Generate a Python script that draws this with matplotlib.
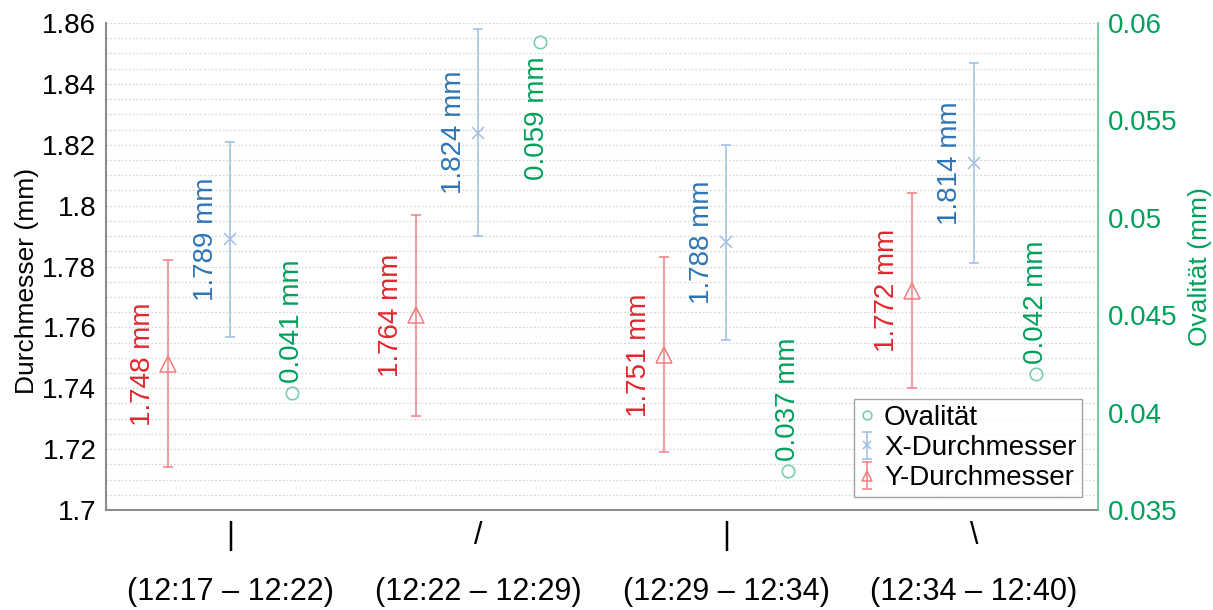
import matplotlib
matplotlib.use("Agg")
import matplotlib.pyplot as plt
import numpy as np
from matplotlib.ticker import MultipleLocator, FuncFormatter

plt.rcParams['font.family'] = ['Liberation Sans', 'DejaVu Sans']

# Measurement data per orientation / time window
orientations = ["|", "/", "|", "\\"]
time_windows = ["(12:17 – 12:22)", "(12:22 – 12:29)", "(12:29 – 12:34)", "(12:34 – 12:40)"]
y_diam = [1.748, 1.764, 1.751, 1.772]
y_diam_err = [0.034, 0.033, 0.032, 0.032]
x_diam = [1.789, 1.824, 1.788, 1.814]
x_diam_err = [0.032, 0.034, 0.032, 0.033]
ovality = [0.041, 0.059, 0.037, 0.042]

RED_TXT = "#E3262E"
RED_LINE = "#F27C80"
BLUE_TXT = "#2E75B6"
BLUE_LINE = "#9DBFE3"
GREEN_TXT = "#00A05A"
GREEN_LINE = "#7ACFAA"

fig = plt.figure(figsize=(12.13, 6.10), dpi=100)
ax = fig.add_axes([0.0874, 0.1639, 0.8178, 0.7984])
ax2 = ax.twinx()

pos = np.arange(len(orientations))
off = 0.25

ey = ax.errorbar(pos - off, y_diam, yerr=y_diam_err, fmt='^', color=RED_LINE,
                 mfc='none', mec=RED_LINE, ms=11, mew=1.1, elinewidth=1.1,
                 capsize=3.5, capthick=1.1, label="Y-Durchmesser", zorder=3)
ex = ax.errorbar(pos, x_diam, yerr=x_diam_err, fmt='x', color=BLUE_LINE,
                 mec=BLUE_LINE, ms=8, mew=1.1, elinewidth=1.1,
                 capsize=3.5, capthick=1.1, label="X-Durchmesser", zorder=3)
ov, = ax2.plot(pos + off, ovality, 'o', mfc='none', mec=GREEN_LINE, ms=9,
               mew=1.2, label="Ovalität", zorder=3)

# value labels
for xi, v in zip(pos - off, y_diam):
    ax.annotate(f"{v:.3f} mm", (xi, v), xytext=(-18, 0), textcoords='offset points',
                rotation=90, ha='center', va='center', color=RED_TXT, fontsize=20)
for xi, v in zip(pos, x_diam):
    ax.annotate(f"{v:.3f} mm", (xi, v), xytext=(-17, 0), textcoords='offset points',
                rotation=90, ha='center', va='center', color=BLUE_TXT, fontsize=20)
for xi, v in zip(pos + off, ovality):
    if v > 0.055:
        ax2.annotate(f"{v:.3f} mm", (xi, v), xytext=(-2, -10), textcoords='offset points',
                     rotation=90, ha='center', va='top', color=GREEN_TXT, fontsize=20)
    else:
        ax2.annotate(f"{v:.3f} mm", (xi, v), xytext=(0, 7), textcoords='offset points',
                     rotation=90, ha='center', va='bottom', color=GREEN_TXT, fontsize=20)

# axes limits and ticks
ax.set_xlim(-0.5, len(orientations) - 0.5)
ax.set_ylim(1.70, 1.86)
ax2.set_ylim(0.035, 0.06)
ax.yaxis.set_major_locator(MultipleLocator(0.02))
ax.yaxis.set_minor_locator(MultipleLocator(0.005))
ax2.yaxis.set_major_locator(MultipleLocator(0.005))
fmt = FuncFormatter(lambda v, p: f"{round(v, 4):g}")
ax.yaxis.set_major_formatter(fmt)
ax2.yaxis.set_major_formatter(fmt)

ax.grid(True, which='both', axis='y', linestyle=(0, (1.5, 1.5)), color='#D9D9D9', linewidth=0.9)
ax.set_axisbelow(True)

ax.set_xticks(pos)
ax.set_xticklabels(orientations, fontsize=22)
ax.tick_params(axis='x', length=0, pad=8)
ax.tick_params(axis='y', which='both', length=0, labelsize=20, pad=7)
ax2.tick_params(axis='y', length=0, labelsize=20, colors=GREEN_TXT, pad=7)

for i, t in enumerate(time_windows):
    ax.text(pos[i], -0.168, t, transform=ax.get_xaxis_transform(), ha='center',
            va='center', fontsize=22)

ax.set_ylabel("Durchmesser (mm)", fontsize=19)
ax.yaxis.set_label_coords(-0.068, 0.47)
ax2.set_ylabel("Ovalität (mm)", fontsize=19, color=GREEN_TXT, labelpad=8)

for a in (ax, ax2):
    a.spines['top'].set_visible(False)
ax.spines['left'].set_color('#8C8C8C')
ax.spines['bottom'].set_color('#8C8C8C')
ax.spines['right'].set_visible(False)
ax2.spines['left'].set_visible(False)
ax2.spines['bottom'].set_visible(False)
ax2.spines['right'].set_color('#5DC495')
for s in ('left', 'bottom'):
    ax.spines[s].set_linewidth(1.5)
ax2.spines['right'].set_linewidth(1.2)

leg = ax2.legend([ov, ex, ey], ["Ovalität", "X-Durchmesser", "Y-Durchmesser"],
                 loc='lower right', bbox_to_anchor=(0.984, 0.027), borderaxespad=0,
                 fontsize=20, frameon=True, fancybox=False, handlelength=0.6,
                 handletextpad=0.3, labelspacing=0.15, borderpad=0.2,
                 markerscale=0.7)
leg.get_frame().set_edgecolor('#8C8C8C')
leg.get_frame().set_linewidth(1.0)

fig.savefig("out.png", dpi=100)
